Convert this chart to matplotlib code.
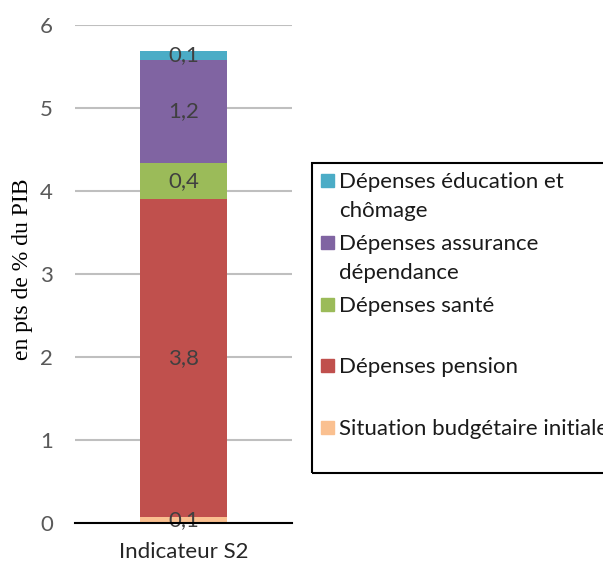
import matplotlib
matplotlib.use('Agg')
import matplotlib.pyplot as plt
from matplotlib.patches import Rectangle

# data (bottom to top)
categories = ['Indicateur S2']
series = ['Situation budgétaire initiale', 'Dépenses pension', 'Dépenses santé',
          'Dépenses assurance dépendance', 'Dépenses éducation et chômage']
values = [0.07, 3.83, 0.44, 1.24, 0.11]
colors = ['#FAC090', '#C0504D', '#9BBB59', '#8064A2', '#4BACC6']
legend_labels = ['Dépenses éducation et\nchômage', 'Dépenses assurance\ndépendance',
                 'Dépenses santé', 'Dépenses pension', 'Situation budgétaire initiale']
legend_colors = ['#4BACC6', '#8064A2', '#9BBB59', '#C0504D', '#FAC090']

plt.rcParams['font.family'] = ['Lato', 'DejaVu Sans']
W, H = 603, 563
fig = plt.figure(figsize=(W / 100, H / 100), dpi=100)
ax = fig.add_axes([75 / W, 1 - 523 / H, (292 - 75) / W, (523 - 25) / H])

bottom = 0
for v, c in zip(values, colors):
	ax.bar(0, v, width=0.4, bottom=bottom, color=c, zorder=3)
	ax.text(0, bottom + v / 2, ('%.1f' % v).replace('.', ','), ha='center', va='center',
	        fontsize=16, color='#404040', zorder=4)
	bottom += v

ax.set_xlim(-0.5, 0.5)
ax.set_ylim(0, 6)
ax.set_yticks(range(7))
ax.set_xticks([0])
ax.set_xticklabels(categories)
ax.tick_params(axis='both', length=0, labelsize=16, labelcolor='#595959')
ax.tick_params(axis='y', pad=16)
ax.tick_params(axis='x', pad=14, labelcolor='#262626')
ax.yaxis.grid(True, color='#BFBFBF', lw=1.5, zorder=0)
for s in ['left', 'right', 'top']:
	ax.spines[s].set_visible(False)
ax.spines['bottom'].set_color('black')
ax.spines['bottom'].set_linewidth(1.5)
ax.spines['bottom'].set_zorder(5)
ax.set_ylabel('en pts de % du PIB', family='Liberation Serif', fontsize=17)
ax.yaxis.set_label_coords(-42 / 217, 0.51)

# legend box drawn by hand
fig.patches.append(Rectangle((312 / W, 1 - 473 / H), (W + 10 - 312) / W, (473 - 163) / H,
                             transform=fig.transFigure, fill=False, ec='black', lw=1.5))
for i, (lab, c) in enumerate(zip(legend_labels, legend_colors)):
	y = 181 + 61.8 * i
	fig.patches.append(Rectangle((321 / W, 1 - (y + 6) / H), 13 / W, 13 / H,
	                             transform=fig.transFigure, color=c))
	fig.text(339 / W, 1 - (y - 9) / H, lab, fontsize=16, va='top', ha='left',
	         color='#1a1a1a', linespacing=1.55)

fig.savefig('out.png', dpi=100)
